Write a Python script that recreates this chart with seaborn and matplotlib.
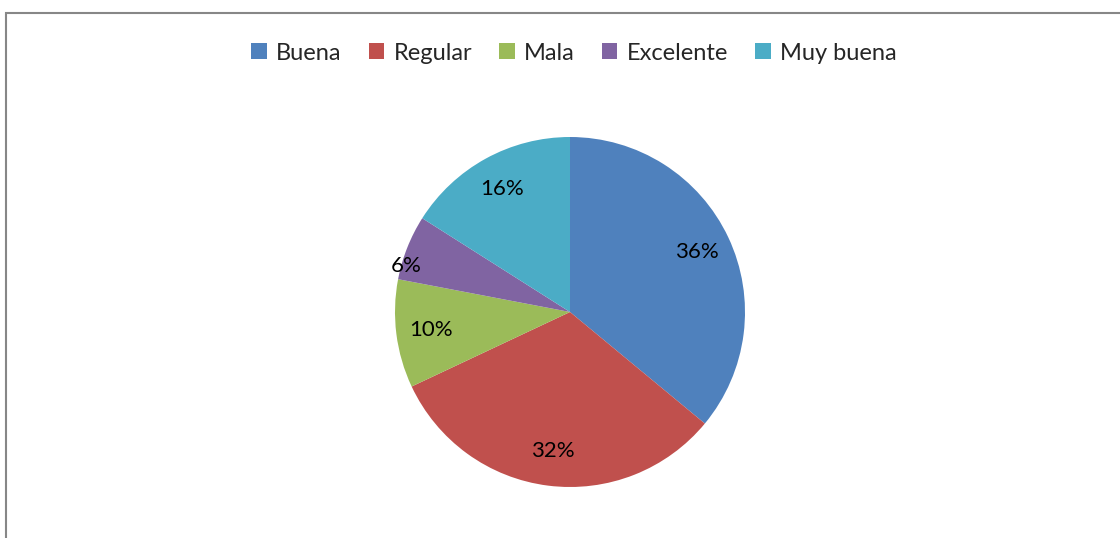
import matplotlib
matplotlib.use('Agg')
import matplotlib.pyplot as plt
from matplotlib.patches import Rectangle
import seaborn as sns

# pie data (percent)
categorias = ['Buena', 'Regular', 'Mala', 'Excelente', 'Muy buena']
valores = [36, 32, 10, 6, 16]
colores = ['#4F81BD', '#C0504D', '#9BBB59', '#8064A2', '#4BACC6']

sns.set_theme(style='white')
plt.rcParams['font.family'] = ['Lato', 'DejaVu Sans']

fig = plt.figure(figsize=(11.2, 5.38), dpi=100)
W, H = 1120, 538

# pie centre (570, 312) px, radius 175 px
cx, cy, r = 570, 312, 175
ax = fig.add_axes([(cx - r) / W, (H - cy - r) / H, 2 * r / W, 2 * r / H])

wedges, texts, autotexts = ax.pie(
    valores, colors=sns.color_palette(colores), startangle=90, counterclock=False,
    autopct='%1.0f%%', pctdistance=0.8,
    wedgeprops=dict(linewidth=0), textprops=dict(fontsize=16, color='black'))
ax.set_xlim(-1, 1)
ax.set_ylim(-1, 1)
ax.set_aspect('equal')

# small slice label sits further out, near the edge
x, y = autotexts[3].get_position()
autotexts[3].set_position((x * 1.26, y * 0.89))

fig.legend(wedges, categorias, loc='center', bbox_to_anchor=(574 / W, 1 - 53 / H),
           ncol=5, frameon=False, fontsize=17, handlelength=0.65, handleheight=0.65,
           handletextpad=0.4, columnspacing=1.15)

# chart-area border, runs off right and bottom edges
fig.patches.append(Rectangle((5.5 / W, -0.1), 1.2, 1.1 - 13.5 / H, transform=fig.transFigure,
                             fill=False, edgecolor='#878787', linewidth=1.5))

fig.savefig('out.png', dpi=100)
